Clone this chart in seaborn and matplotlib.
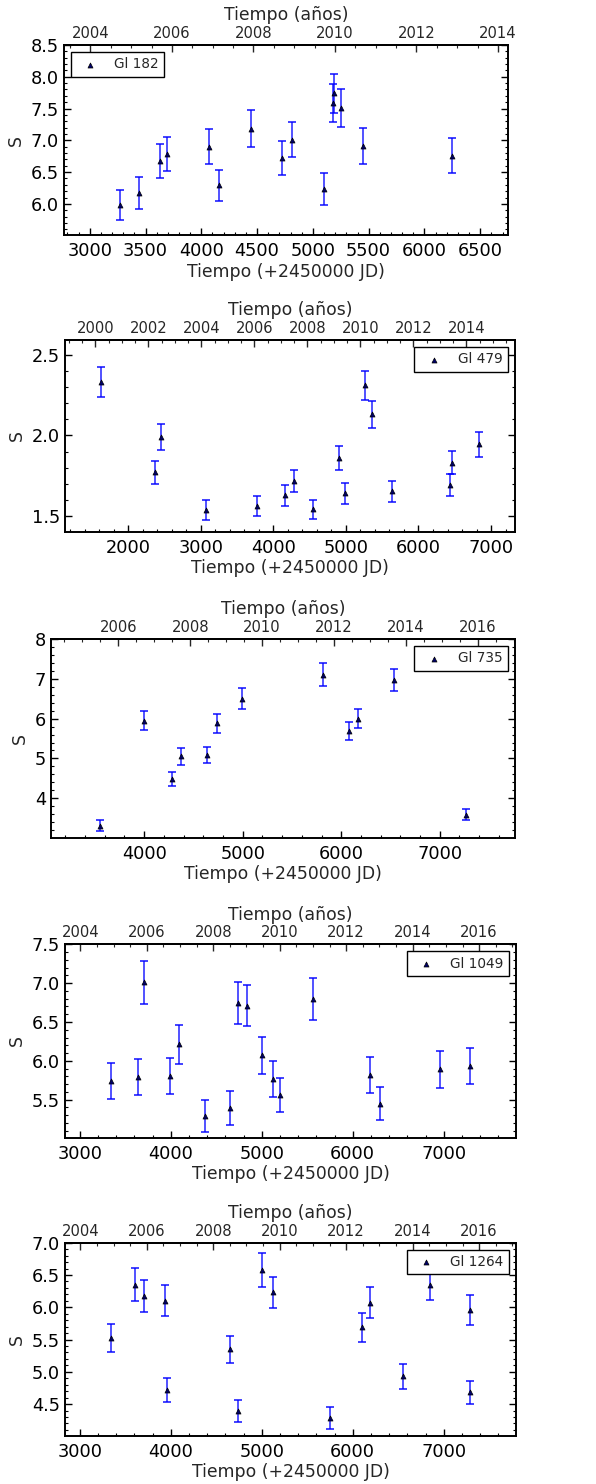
import numpy as np
import pandas as pd
import matplotlib
matplotlib.use("Agg")
import matplotlib.pyplot as plt
import seaborn as sns
from matplotlib.ticker import MultipleLocator, AutoMinorLocator, FixedLocator

# ---------------- data ----------------
names = ["Gl 182", "Gl 479", "Gl 735", "Gl 1049", "Gl 1264"]

gl182_jd = [3269, 3443, 3628, 3691, 4071, 4158, 4442, 4726, 4816, 5100, 5184, 5190, 5255, 5453, 6249]
gl182_s = [5.98, 6.17, 6.67, 6.78, 6.90, 6.29, 7.18, 6.72, 7.01, 6.23, 7.59, 7.74, 7.51, 6.91, 6.76]
gl182_e = [0.24, 0.245, 0.265, 0.27, 0.275, 0.25, 0.29, 0.265, 0.275, 0.25, 0.30, 0.31, 0.30, 0.28, 0.27]

gl479_jd = [1628, 2362, 2454, 3073, 3780, 4165, 4280, 4546, 4899, 4991, 5261, 5358, 5633, 6431, 6459, 6830]
gl479_s = [2.33, 1.772, 1.992, 1.538, 1.560, 1.629, 1.717, 1.541, 1.859, 1.642, 2.312, 2.133, 1.654, 1.694, 1.831, 1.945]
gl479_e = [0.093, 0.071, 0.08, 0.061, 0.062, 0.065, 0.068, 0.06, 0.073, 0.065, 0.091, 0.084, 0.065, 0.069, 0.072, 0.077]

gl735_jd = [3551, 3997, 4287, 4375, 4642, 4736, 4993, 5818, 6084, 6172, 6534, 7264]
gl735_s = [3.31, 5.95, 4.48, 5.05, 5.08, 5.88, 6.50, 7.10, 5.68, 6.00, 6.97, 3.59]
gl735_e = [0.134, 0.244, 0.18, 0.206, 0.206, 0.235, 0.26, 0.286, 0.227, 0.244, 0.277, 0.147]

gl1049_jd = [3338, 3639, 3705, 3994, 4090, 4380, 4648, 4739, 4835, 5000, 5121, 5206, 5558, 6189, 6299, 6963, 7294]
gl1049_s = [5.74, 5.79, 7.01, 5.80, 6.21, 5.29, 5.39, 6.74, 6.71, 6.07, 5.77, 5.56, 6.79, 5.82, 5.45, 5.89, 5.93]
gl1049_e = [0.228, 0.231, 0.28, 0.23, 0.248, 0.209, 0.215, 0.27, 0.265, 0.241, 0.231, 0.22, 0.27, 0.23, 0.218, 0.235, 0.235]

gl1264_jd = [3338, 3602, 3705, 3932, 3961, 4648, 4739, 5000, 5121, 5745, 6105, 6185, 6552, 6853, 7294, 7294]
gl1264_s = [5.52, 6.35, 6.17, 6.10, 4.72, 5.35, 4.39, 6.58, 6.23, 4.28, 5.69, 6.07, 4.93, 6.35, 5.96, 4.68]
gl1264_e = [0.22, 0.253, 0.248, 0.24, 0.186, 0.212, 0.173, 0.263, 0.245, 0.168, 0.227, 0.24, 0.196, 0.245, 0.235, 0.183]

series = [
    (gl182_jd, gl182_s, gl182_e),
    (gl479_jd, gl479_s, gl479_e),
    (gl735_jd, gl735_s, gl735_e),
    (gl1049_jd, gl1049_s, gl1049_e),
    (gl1264_jd, gl1264_s, gl1264_e),
]

# ---------------- layout / style ----------------
W, H = 596, 1484
# (left, right, top, bottom) in pixels
boxes = [
    (64, 508, 45, 235),
    (65, 515, 340, 531.7),
    (50.7, 515, 639, 837.7),
    (65, 516, 944.3, 1137.7),
    (65, 516, 1242.7, 1435.7),
]
ylims = [(5.51, 8.5), (1.402, 2.593), (3.01, 8.0), (5.01, 7.5), (4.01, 7.0)]
xmajor = [500, 1000, 1000, 1000, 1000]
ymajor = [0.5, 0.5, 1.0, 0.5, 0.5]
legloc = ["upper left", "upper right", "upper right", "upper right", "upper right"]

sns.set_style("white")
plt.rcParams["font.family"] = ["DejaVu Sans"]
plt.rcParams["xtick.direction"] = "in"
plt.rcParams["ytick.direction"] = "in"

fig = plt.figure(figsize=(W / 100, H / 100), dpi=100)
fig.patch.set_facecolor("white")


def jd2yr(jd):
    return 2000.0 + (np.asarray(jd, dtype=float) - 1545.0) / 365.25


def yr2jd(yr):
    return 1545.0 + (np.asarray(yr, dtype=float) - 2000.0) * 365.25


for i, (name, (jd, s, e)) in enumerate(zip(names, series)):
    l, r, t, b = boxes[i]
    ax = fig.add_axes([l / W, 1 - b / H, (r - l) / W, (b - t) / H])
    df = pd.DataFrame({"jd": jd, "S": s, "err": e})
    ax.errorbar(df["jd"], df["S"], yerr=df["err"], fmt="none", ecolor="#0000ff",
                elinewidth=1.2, capsize=2.8, capthick=1.3, alpha=0.8, zorder=2)
    sns.scatterplot(data=df, x="jd", y="S", marker="^", s=13, color="#00006a",
                    edgecolor="black", linewidth=0.5, label=name, ax=ax, zorder=3)
    x0, x1 = min(jd) - 500, max(jd) + 500
    ax.set_xlim(x0, x1)
    ax.set_ylim(*ylims[i])
    ax.xaxis.set_major_locator(MultipleLocator(xmajor[i]))
    ax.xaxis.set_minor_locator(AutoMinorLocator())
    ax.yaxis.set_major_locator(MultipleLocator(ymajor[i]))
    ax.yaxis.set_minor_locator(AutoMinorLocator())
    ax.tick_params(which="both", direction="in", top=False, right=True, bottom=True, left=True,
                   labelsize=12.8, colors="black")
    ax.tick_params(axis="x", which="major", pad=5)
    ax.tick_params(which="major", length=5, width=1)
    ax.tick_params(which="minor", length=2.5, width=0.8)
    for sp in ax.spines.values():
        sp.set_linewidth(1.4)
        sp.set_color("black")
    ax.set_xlabel("Tiempo (+2450000 JD)", fontsize=12.4, labelpad=2)
    ax.set_ylabel("S", fontsize=12.4, labelpad=4)

    sec = ax.secondary_xaxis("top", functions=(jd2yr, yr2jd))
    y0, y1 = float(jd2yr(x0)), float(jd2yr(x1))
    yr_major = [y for y in range(1990, 2030, 2) if y0 + 0.01 <= y <= y1 - 0.01]
    yr_minor = [y / 2 for y in range(3980, 4060) if y0 + 0.01 <= y / 2 <= y1 - 0.01]
    sec.xaxis.set_major_locator(FixedLocator(yr_major))
    sec.xaxis.set_minor_locator(FixedLocator(yr_minor))
    sec.tick_params(which="both", direction="in", labelsize=10.6, pad=3)
    sec.tick_params(which="major", length=5, width=1)
    sec.tick_params(which="minor", length=2.5, width=0.8)
    sec.set_xlabel("Tiempo (años)", fontsize=12.4, labelpad=4)
    sec.spines["top"].set_linewidth(1.4)

    leg = ax.legend(loc=legloc[i], fontsize=9.8, frameon=True, fancybox=False,
                    framealpha=1, edgecolor="black", scatterpoints=1,
                    borderpad=0.4, handletextpad=0.8, borderaxespad=0.5)
    leg.get_frame().set_linewidth(1.0)
    leg.set_zorder(5)

fig.savefig("out.png", dpi=100, facecolor="white")
